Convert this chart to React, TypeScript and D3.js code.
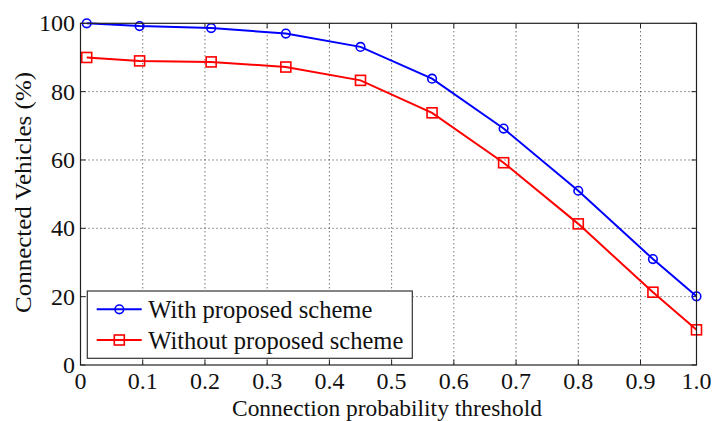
import React from "react";
import * as d3 from "d3";

const xValues = [0.01, 0.095, 0.21, 0.33, 0.45, 0.565, 0.68, 0.8, 0.92, 0.99];
const withScheme = [100, 99.2, 98.6, 97.0, 93.1, 83.8, 69.2, 51.0, 31.0, 20.1];
const withoutScheme = [90, 89.0, 88.7, 87.2, 83.3, 73.8, 59.2, 41.3, 21.3, 10.3];
const xTicks = [0, 0.1, 0.2, 0.3, 0.4, 0.5, 0.6, 0.7, 0.8, 0.9, 0.99];
const xTickLabels = ["0", "0.1", "0.2", "0.3", "0.4", "0.5", "0.6", "0.7", "0.8", "0.9", "1.0"];
const yTicks = [0, 20, 40, 60, 80, 100];
const seriesNames = ["With proposed scheme", "Without proposed scheme"];

const W = 713, H = 421;
const L = 80.5, R = 696.5, T = 23.3, B = 365;
const FONT = "'Liberation Serif', 'Times New Roman', serif";

export default function App() {
  const x = d3.scaleLinear().domain([0, 0.99]).range([L, R]);
  const y = d3.scaleLinear().domain([0, 100]).range([B, T]);
  const line = d3.line<number>().x((_, i) => x(xValues[i])).y((d) => y(d));
  const tick = 5;

  const series = [
    { name: seriesNames[0], data: withScheme, color: "#0000ff", marker: "circle", len: 224 },
    { name: seriesNames[1], data: withoutScheme, color: "#ff0000", marker: "square", len: 255 },
  ];

  const marker = (kind: string, cx: number, cy: number, color: string, key: any) =>
    kind === "circle" ? (
      <circle key={key} cx={cx} cy={cy} r={4.3} fill="none" stroke={color} strokeWidth={1.6} />
    ) : (
      <rect key={key} x={cx - 5} y={cy - 5} width={10} height={10} fill="none" stroke={color} strokeWidth={1.6} />
    );

  return (
    <svg width={W} height={H} style={{ position: "absolute", left: 0, top: 0, background: "#fff" }} fontFamily={FONT}>
      <rect x={0} y={0} width={W} height={H} fill="#fff" />
      {/* grid */}
      <g stroke="#333" strokeWidth={1} strokeDasharray="1,3">
        {xTicks.slice(1, -1).map((t, i) => (
          <line key={"gx" + i} x1={x(t)} x2={x(t)} y1={T} y2={B} />
        ))}
        {yTicks.slice(1, -1).map((t, i) => (
          <line key={"gy" + i} x1={L} x2={R} y1={y(t)} y2={y(t)} />
        ))}
      </g>
      {/* ticks */}
      <g stroke="#222" strokeWidth={1}>
        {xTicks.map((t, i) => (
          <g key={"tx" + i}>
            <line x1={x(t)} x2={x(t)} y1={B} y2={B - tick} />
            <line x1={x(t)} x2={x(t)} y1={T} y2={T + tick} />
          </g>
        ))}
        {yTicks.map((t, i) => (
          <g key={"ty" + i}>
            <line x1={L} x2={L + tick} y1={y(t)} y2={y(t)} />
            <line x1={R} x2={R - tick} y1={y(t)} y2={y(t)} />
          </g>
        ))}
      </g>
      {/* series */}
      {series.map((s, si) => (
        <g key={"s" + si}>
          <path d={line(s.data) || ""} fill="none" stroke={s.color} strokeWidth={2} />
          {s.data.map((v, i) => marker(s.marker, x(xValues[i]), y(v), s.color, i))}
        </g>
      ))}
      {/* box */}
      <rect x={L} y={T} width={R - L} height={B - T} fill="none" stroke="#222" strokeWidth={1.2} />
      {/* tick labels */}
      <g fontSize={24} fill="#111">
        {xTicks.map((t, i) => (
          <text key={"lx" + i} x={x(t)} y={389} textAnchor="middle">{xTickLabels[i]}</text>
        ))}
        {yTicks.map((t, i) => (
          <text key={"ly" + i} x={75} y={y(t) + 8} textAnchor="end">{t}</text>
        ))}
      </g>
      <text x={387} y={415.5} textAnchor="middle" fontSize={24} fill="#111" textLength={310} lengthAdjust="spacingAndGlyphs">Connection probability threshold</text>
      <text transform={`translate(31,192.5) rotate(-90)`} textAnchor="middle" fontSize={24} fill="#111" textLength={241} lengthAdjust="spacingAndGlyphs">Connected Vehicles (%)</text>
      {/* legend */}
      <g>
        <rect x={87.3} y={291} width={325} height={67.3} fill="#fff" stroke="#333" strokeWidth={1.2} />
        {series.map((s, si) => {
          const ly = 309.3 + si * 30.7;
          return (
            <g key={"lg" + si}>
              <line x1={96.7} x2={141.7} y1={ly} y2={ly} stroke={s.color} strokeWidth={2} />
              {marker(s.marker, 119.3, ly, s.color, "m")}
              <text x={148.3} y={ly + 8.5} fontSize={25} fill="#111" textLength={s.len} lengthAdjust="spacingAndGlyphs">{s.name}</text>
            </g>
          );
        })}
      </g>
    </svg>
  );
}
